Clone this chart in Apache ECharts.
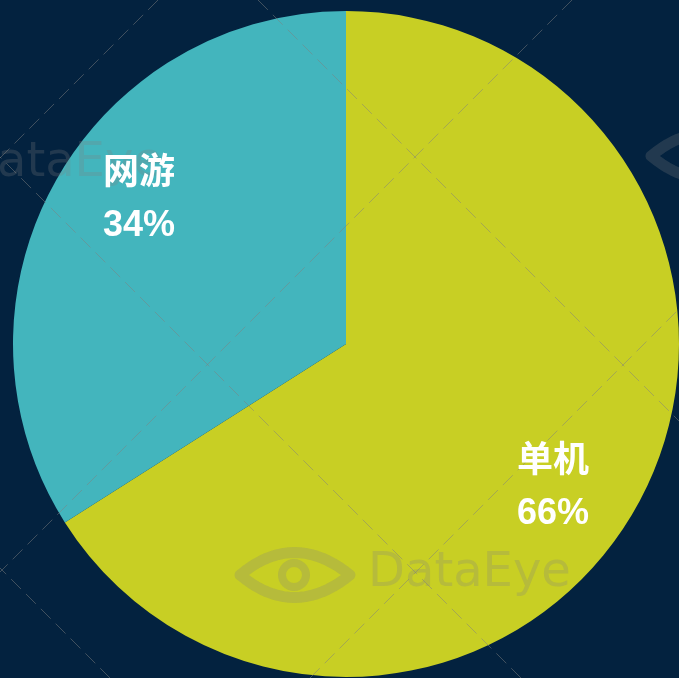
<!DOCTYPE html>
<html>
<head>
<meta charset="utf-8">
<script src="https://cdn.jsdelivr.net/npm/echarts@6/dist/echarts.min.js"></script>
<style>
  html, body { margin: 0; padding: 0; background: #03223f; }
  #chart { width: 679px; height: 678px; }
</style>
</head>
<body>
<div id="chart"></div>
<script>
// 数据
const categories = ['单机', '网游']
const shares = [66, 34]
const sliceColors = ['#c8cf24', '#43b5bd']

const chart = echarts.init(document.getElementById('chart'))

const pieData = categories.map((name, i) => ({
  name,
  value: shares[i],
  itemStyle: { color: sliceColors[i] }
}))

// 背景虚线网格（斜 45°）
const H = 678
const downRight = [-258, 157, 568]
const upRight = [158, 572, 988]
const dashStyle = { stroke: 'rgba(128,128,128,0.5)', lineWidth: 1, lineDash: [14, 7] }
const gridLines = []
downRight.forEach(c => {
  gridLines.push({
    type: 'line', silent: true, z: 5,
    shape: { x1: -c, y1: 0, x2: H - c, y2: H },
    style: dashStyle
  })
})
upRight.forEach(c => {
  gridLines.push({
    type: 'line', silent: true, z: 5,
    shape: { x1: c, y1: 0, x2: c - H, y2: H },
    style: dashStyle
  })
})

// 水印（眼睛 + DataEye）
const markColor = 'rgba(128,128,128,0.25)'
const lensPoints = () => {
  const pts = []
  const q = (t, a, b, c) => (1 - t) * (1 - t) * a + 2 * t * (1 - t) * b + t * t * c
  for (let k = 0; k <= 20; k++) {
    const t = k / 20
    pts.push([q(t, 6, 60, 116), q(t, 29, -16, 29)])
  }
  for (let k = 0; k <= 20; k++) {
    const t = k / 20
    pts.push([q(t, 116, 60, 6), q(t, 29, 74, 29)])
  }
  return pts
}
const watermark = (x, y) => ({
  type: 'group', x, y, silent: true, z: 6,
  children: [
    {
      type: 'polygon', z: 6,
      shape: { points: lensPoints() },
      style: { fill: 'none', stroke: markColor, lineWidth: 11, lineJoin: 'round' }
    },
    {
      type: 'circle', z: 6,
      shape: { cx: 60, cy: 29, r: 12 },
      style: { fill: 'none', stroke: markColor, lineWidth: 8 }
    },
    {
      type: 'text', x: 134, y: 4, z: 6,
      style: {
        text: 'DataEye', fill: markColor,
        font: '48px "DejaVu Sans", sans-serif'
      }
    }
  ]
})

const option = {
  backgroundColor: '#03223f',
  animation: false,
  graphic: {
    elements: [
      ...gridLines,
      watermark(234, 546),
      watermark(-174, 136),
      watermark(645, 127)
    ]
  },
  series: [
    {
      type: 'pie',
      z: 1,
      center: [346, 344],
      radius: 333,
      startAngle: 90,
      clockwise: true,
      silent: true,
      label: { show: false },
      labelLine: { show: false },
      itemStyle: { borderWidth: 0 },
      data: pieData
    },
    {
      // 只用来放标签
      type: 'pie',
      z: 10,
      center: [346, 344],
      radius: 498,
      startAngle: 84,
      clockwise: true,
      silent: true,
      itemStyle: { color: 'transparent', borderWidth: 0 },
      labelLine: { show: false },
      label: {
        show: true,
        position: 'inside',
        formatter: '{b}\n{c}%',
        color: '#ffffff',
        fontSize: 36,
        fontWeight: 'bold',
        lineHeight: 52,
        padding: [14, 0, 0, 0],
        fontFamily: '"Liberation Sans", "Noto Sans CJK SC", sans-serif'
      },
      data: categories.map((name, i) => ({ name, value: shares[i] }))
    }
  ]
}

chart.setOption(option)
</script>
</body>
</html>
